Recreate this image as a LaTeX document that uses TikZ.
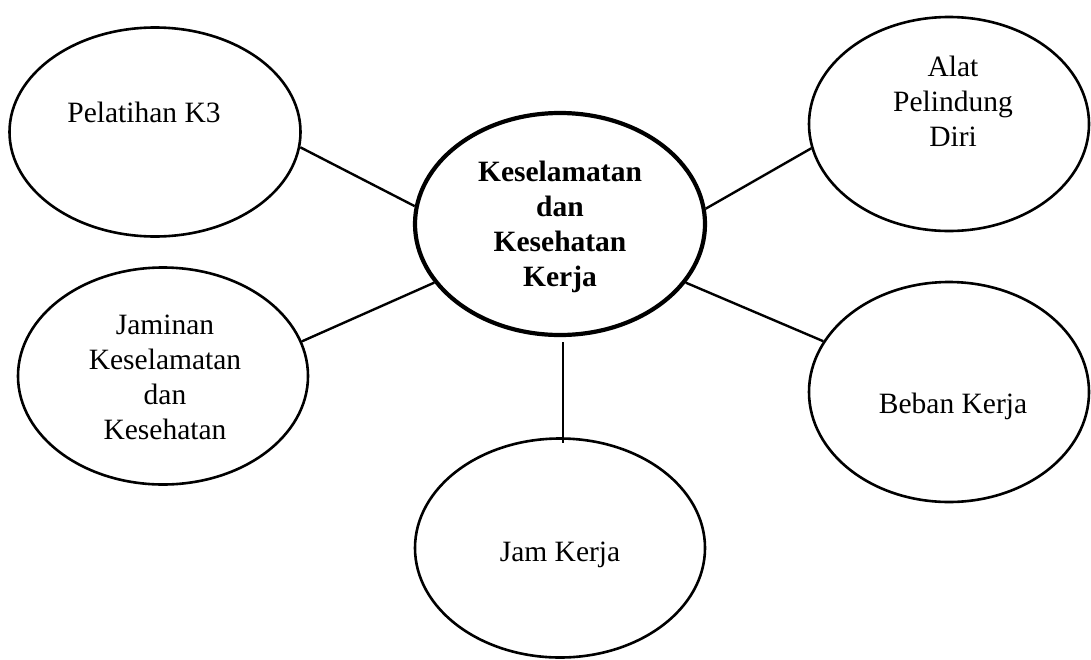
\documentclass[tikz,border=0pt]{standalone}
\usepackage{fontspec}
\setmainfont{Liberation Serif}
\usetikzlibrary{shapes.geometric}
\begin{document}
\begin{tikzpicture}[x=1pt,y=-1pt,
  bub/.style={draw, ellipse, inner sep=0pt, line width=2.6pt},
  mainbub/.style={bub, line width=4.2pt},
  lbl/.style={align=center, inner sep=0pt, anchor=base, font=\fontsize{29.5}{34.8}\selectfont},
  link/.style={line width=2.4pt}]
\useasboundingbox (0,0) rectangle (1091,659);
% bubbles
\node[bub, minimum width=291pt, minimum height=209pt] (pel) at (155,132) {};
\node[bub, minimum width=290pt, minimum height=217pt] (jam) at (163,376) {};
\node[mainbub, minimum width=290pt, minimum height=222pt] (cen) at (560,224) {};
\node[bub, minimum width=280pt, minimum height=214pt] (alat) at (949,124) {};
\node[bub, minimum width=280pt, minimum height=220pt] (beb) at (949,392) {};
\node[bub, minimum width=290pt, minimum height=219pt] (jk) at (560,548) {};
% labels (base anchor = baseline of last line)
\node[lbl] (pelt) at (144,122) {Pelatihan K3};
\node[lbl] (jamt) at (165,439) {Jaminan\\Keselamatan\\dan\\Kesehatan};
\node[lbl, font=\fontsize{29.5}{34.8}\selectfont\bfseries] (cent) at (560,286) {Keselamatan\\dan\\Kesehatan\\Kerja};
\node[lbl] (alatt) at (953,146) {Alat\\Pelindung\\Diri};
\node[lbl] (bebt) at (953,413) {Beban Kerja};
\node[lbl] (jkt) at (560,561) {Jam Kerja};
% connectors
\draw[link] (pel.-6.3) -- (cen.173.3);
\draw[link] (jam.14.5) -- (cen.205.8);
\draw[link] (alat.190.3) -- (cen.6.8);
\draw[link] (beb.158.5) -- (cen.-25.6);
\draw[link, shorten <=5pt, shorten >=-6pt] ([xshift=3pt]cen.south) -- ([xshift=3pt]jk.north);
\end{tikzpicture}
\end{document}
